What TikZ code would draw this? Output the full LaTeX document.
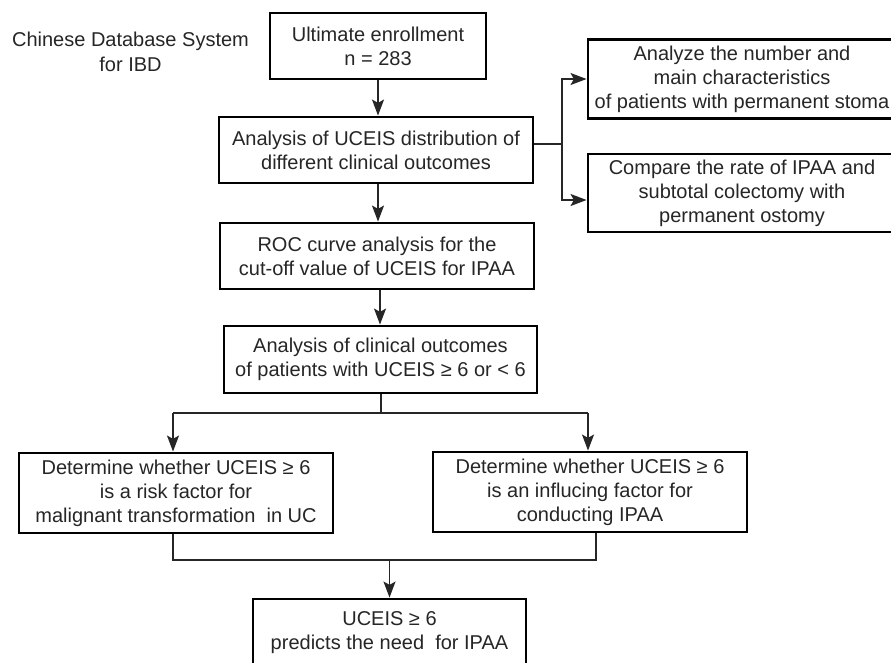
\documentclass[tikz,border=0pt]{standalone}
\usepackage{fontspec}
\setmainfont{Liberation Sans}
\usetikzlibrary{arrows.meta}
\begin{document}
\begin{tikzpicture}[x=0.75pt,y=-0.75pt,
  box/.style={draw=black, line width=2.2pt, inner sep=0pt, align=center,
    font=\fontsize{15pt}{18pt}\selectfont, text=black!85},
  conn/.style={draw=black!85, line width=1.1pt},
  arr/.style={conn, -{Stealth[length=12pt,width=9pt,inset=2.5pt]}}]
\useasboundingbox (0,0) rectangle (891,662);
\clip (0,0) rectangle (891,662);
\fill[white] (0,0) rectangle (891,662);
\node[align=center, font=\fontsize{15pt}{18.75pt}\selectfont, text=black!85] (src) at (130.5,52) {Chinese Database System\\for IBD};
\node[box, minimum width=162pt, minimum height=49.5pt] (b1) at (378,46) {Ultimate enrollment\\n = 283};
\node[box, minimum width=235.5pt, minimum height=49.5pt] (b2) at (376,150) {Analysis of UCEIS distribution of\\different clinical outcomes};
\node[box, minimum width=235.5pt, minimum height=49.5pt] (b3) at (377,256) {ROC curve analysis for the\\cut-off value of UCEIS for IPAA};
\node[box, minimum width=234.75pt, minimum height=50.25pt] (b4) at (380.5,359.5) {Analysis of clinical outcomes\\of patients with UCEIS ≥ 6 or < 6};
\node[box, minimum width=231pt, minimum height=59.25pt] (ra) at (742,79) {Analyze the number and\\main characteristics\\of patients with permanent stoma};
\node[box, minimum width=231pt, minimum height=58.5pt] (rb) at (742,193) {Compare the rate of IPAA and\\subtotal colectomy with\\permanent ostomy};
\node[box, minimum width=235.5pt, minimum height=60pt] (lc) at (176,493) {Determine whether UCEIS ≥ 6\\is a risk factor for\\malignant transformation\ \ in UC};
\node[box, minimum width=235.5pt, minimum height=60pt] (rd) at (590,492) {Determine whether UCEIS ≥ 6\\is an influcing factor for\\conducting IPAA};
\node[box, minimum width=204.75pt, minimum height=51pt] (fe) at (389.5,633) {UCEIS ≥ 6\\predicts the need\ \ for IPAA};
% main column
\draw[arr] (b1.south) -- (b2.north -| b1.south);
\draw[arr] (b2.south -| b1.south) -- (b3.north -| b1.south);
\draw[arr] (b3.south -| 380,0) -- (b4.north -| 380,0);
% bracket to right boxes
\coordinate (br) at (562,144);
\draw[conn] (b2.east |- br) -- (br);
\draw[arr] (br) |- (ra.west);
\draw[arr] (br) |- (rb.west |- 0,200);
% split
\coordinate (sl) at (173,413);
\coordinate (sr) at (588,413);
\draw[conn] (b4.south -| 381,0) -- (381,413);
\draw[conn] (sl) -- (sr);
\draw[arr] (sl) -- (sl |- lc.north);
\draw[arr] (sr) -- (sr |- rd.north);
% merge
\coordinate (ml) at (173,560);
\coordinate (mr) at (596,560);
\draw[conn] (lc.south -| ml) -- (ml) -- (mr) -- (rd.south -| mr);
\draw[arr] (fe.north |- ml) -- (fe.north);
\end{tikzpicture}
\end{document}
